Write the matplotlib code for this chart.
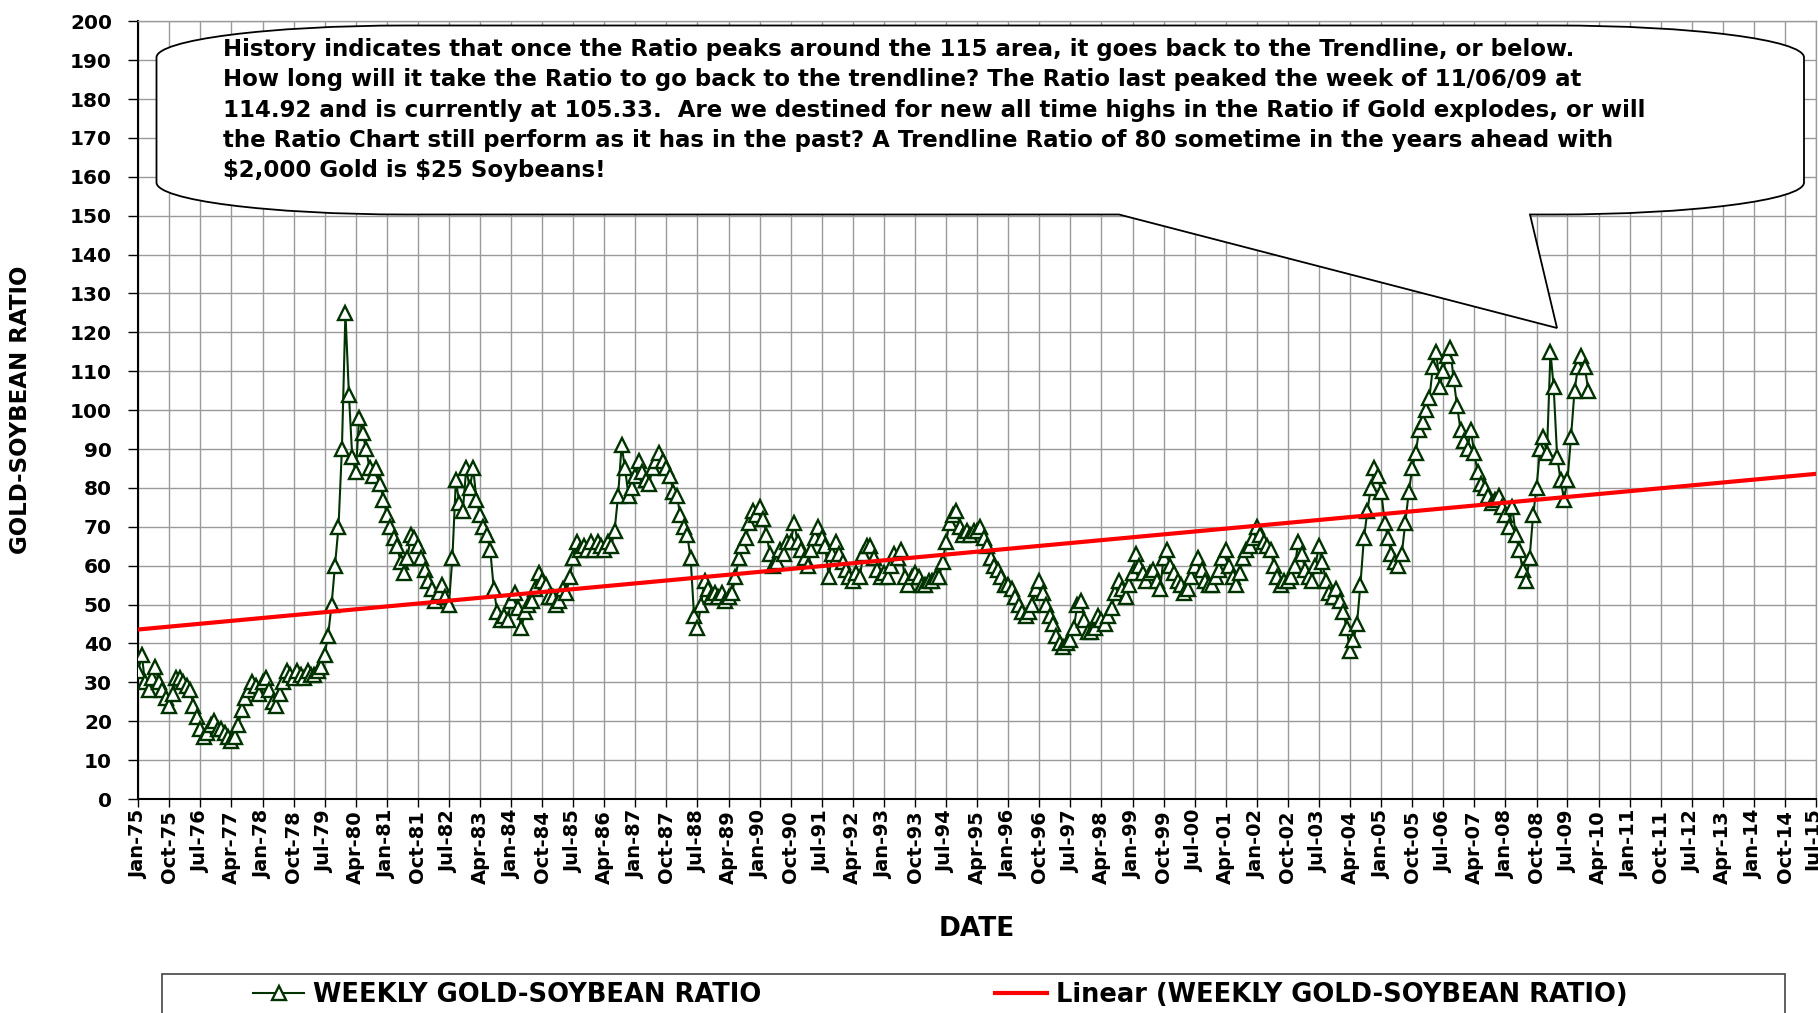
import numpy as np
import pandas as pd
import matplotlib
matplotlib.use("Agg")
import matplotlib.pyplot as plt
from matplotlib.path import Path
from matplotlib.patches import PathPatch, Rectangle
from matplotlib.lines import Line2D

# Monthly readings of the weekly gold/soybean ratio, Jan-75 .. Jan-10
ratio_values = [
    33, 37, 30, 28, 31, 34, 30, 28, 26, 24, 27, 31,          # 1975
    31, 30, 29, 28, 24, 21, 18, 16, 17, 19, 20, 18,          # 1976
    18, 17, 16, 15, 16, 19, 23, 26, 28, 30, 29, 27,          # 1977
    30, 31, 28, 25, 24, 27, 30, 33, 32, 31, 33, 32,          # 1978
    31, 33, 32, 32, 33, 34, 37, 42, 50, 60, 70, 90,          # 1979
    125, 104, 88, 84, 98, 94, 90, 85, 83, 85, 81, 77,        # 1980
    73, 70, 67, 65, 61, 58, 62, 68, 67, 65, 62, 59,          # 1981
    56, 54, 51, 53, 55, 52, 50, 62, 82, 76, 74, 85,          # 1982
    80, 85, 77, 73, 70, 68, 64, 54, 48, 46, 47, 46,          # 1983
    51, 53, 49, 44, 48, 50, 51, 54, 58, 56, 55, 52,          # 1984
    52, 50, 51, 54, 53, 57, 62, 66, 64, 65, 64, 66,          # 1985
    64, 66, 65, 64, 66, 65, 69, 78, 91, 85, 78, 80,          # 1986
    83, 87, 84, 82, 81, 85, 87, 89, 87, 85, 83, 79,          # 1987
    78, 73, 70, 68, 62, 47, 44, 50, 56, 54, 52, 53,          # 1988
    52, 53, 51, 52, 53, 57, 62, 65, 67, 71, 74, 73,          # 1989
    75, 72, 68, 63, 60, 61, 64, 63, 66, 66, 71, 66,          # 1990
    64, 62, 60, 64, 67, 70, 67, 65, 57, 63, 66, 63,          # 1991
    61, 59, 57, 56, 58, 57, 63, 65, 65, 62, 59, 57,          # 1992
    58, 57, 60, 63, 62, 64, 57, 55, 57, 58, 57, 55,          # 1993
    55, 56, 56, 57, 57, 61, 66, 71, 73, 74, 70, 68,          # 1994
    69, 68, 69, 69, 70, 67, 65, 62, 60, 59, 57, 55,          # 1995
    55, 54, 52, 50, 48, 47, 48, 50, 54, 56, 53, 50,          # 1996
    47, 45, 42, 40, 39, 40, 41, 44, 50, 51, 46, 43,          # 1997
    43, 44, 47, 46, 45, 47, 49, 53, 56, 54, 52, 55,          # 1998
    58, 63, 60, 58, 56, 58, 59, 56, 54, 62, 64, 60,          # 1999
    58, 56, 55, 53, 54, 57, 60, 62, 59, 56, 55, 55,          # 2000
    57, 59, 62, 64, 60, 57, 55, 58, 62, 64, 65, 67,          # 2001
    70, 68, 66, 65, 64, 60, 57, 55, 56, 56, 57, 60,          # 2002
    66, 63, 59, 57, 56, 60, 65, 61, 56, 53, 52, 54,          # 2003
    51, 48, 44, 38, 41, 45, 55, 67, 74, 80, 85, 83,          # 2004
    79, 71, 67, 63, 61, 60, 63, 71, 79, 85, 89, 95,          # 2005
    97, 100, 103, 111, 115, 106, 110, 114, 116, 108, 101, 95,  # 2006
    92, 90, 95, 89, 84, 81, 80, 78, 76, 77, 78, 75,          # 2007
    73, 70, 75, 68, 64, 59, 56, 62, 73, 80, 90, 93,          # 2008
    89, 115, 106, 88, 82, 77, 82, 93, 105, 111, 114, 111,    # 2009
    105,                                                     # 2010
]
ratio_dates = pd.date_range("1975-01-01", periods=len(ratio_values), freq="MS")

tick_dates = pd.date_range("1975-01-01", "2015-07-01", freq="9MS")
tick_labels = [d.strftime("%b-%y") for d in tick_dates]
y_ticks = list(range(0, 201, 10))

callout_text = (
    "History indicates that once the Ratio peaks around the 115 area, it goes back to the Trendline, or below.\n"
    "How long will it take the Ratio to go back to the trendline? The Ratio last peaked the week of 11/06/09 at\n"
    "114.92 and is currently at 105.33.  Are we destined for new all time highs in the Ratio if Gold explodes, or will\n"
    "the Ratio Chart still perform as it has in the past? A Trendline Ratio of 80 sometime in the years ahead with\n"
    "\\$2,000 Gold is \\$25 Soybeans!"
)

# Linear trendline (like Excel's) over the monthly series
month_idx = np.arange(len(ratio_values))
slope, intercept = np.polyfit(month_idx, ratio_values, 1)
trend_months = np.array([0, 486])
trend_dates = [tick_dates[0], tick_dates[-1]]
trend_values = intercept + slope * trend_months

W, H = 1818, 1013
fig = plt.figure(figsize=(W / 100, H / 100), dpi=100)
ax = fig.add_axes([138.3 / W, 1 - 799 / H, (1816 - 138.3) / W, (799 - 21.3) / H])

green = "#003300"
ax.plot(ratio_dates, ratio_values, color=green, lw=1.5, marker="^", ms=9.5,
        mfc="white", mec=green, mew=1.7, zorder=3)
ax.plot(trend_dates, trend_values, color="#ff0000", lw=3, zorder=4)

ax.set_xlim(tick_dates[0], tick_dates[-1])
ax.set_ylim(0, 200)
ax.set_xticks(tick_dates)
ax.set_xticklabels(tick_labels, rotation=90, fontsize=14, fontweight="bold")
ax.set_yticks(y_ticks)
ax.set_yticklabels([str(v) for v in y_ticks], fontsize=14.5, fontweight="bold")
ax.tick_params(axis="x", direction="out", length=6, width=1, pad=2)
ax.tick_params(axis="y", direction="out", length=7, width=1, pad=12)
ax.grid(True, color="#9a9a9a", lw=1)
ax.set_axisbelow(True)
for side in ["left", "bottom"]:
    ax.spines[side].set_color("black")
    ax.spines[side].set_linewidth(1.5)
for side in ["top", "right"]:
    ax.spines[side].set_color("#9a9a9a")
    ax.spines[side].set_linewidth(1)

fig.text(21 / W, 1 - 410 / H, "GOLD-SOYBEAN RATIO", rotation=90, ha="center",
         va="center", fontsize=16.5, fontweight="bold")
fig.text(977 / W, 1 - 929 / H, "DATE", ha="center", va="center",
         fontsize=19, fontweight="bold")


# Callout bubble, built in pixel coordinates (y down), then converted
def fpx(x, y):
    return (x / W, 1 - y / H)


L, R, T, B = 156.5, 1804, 25.5, 214.5
rx, ry, k = 250, 32, 0.5523
base1, base2, tip = 1119, 1530, (1557, 328)
pts = [
    (L, T + ry),
    (L, T + ry - k * ry), (L + rx - k * rx, T), (L + rx, T),
    (R - rx, T),
    (R - rx + k * rx, T), (R, T + ry - k * ry), (R, T + ry),
    (R, B - ry),
    (R, B - ry + k * ry), (R - rx + k * rx, B), (R - rx, B),
    (base2, B),
    tip,
    (base1, B),
    (L + rx, B),
    (L + rx - k * rx, B), (L, B - ry + k * ry), (L, B - ry),
    (L, T + ry),
]
codes = [Path.MOVETO,
         Path.CURVE4, Path.CURVE4, Path.CURVE4,
         Path.LINETO,
         Path.CURVE4, Path.CURVE4, Path.CURVE4,
         Path.LINETO,
         Path.CURVE4, Path.CURVE4, Path.CURVE4,
         Path.LINETO, Path.LINETO, Path.LINETO, Path.LINETO,
         Path.CURVE4, Path.CURVE4, Path.CURVE4,
         Path.CLOSEPOLY]
bubble = PathPatch(Path([fpx(*p) for p in pts], codes), facecolor="white",
                   edgecolor="black", lw=1.3, transform=fig.transFigure, zorder=5)
fig.add_artist(bubble)
fig.text(223 / W, 1 - 110 / H, callout_text, ha="left", va="center",
         fontsize=16.5, fontweight="bold", linespacing=1.39, zorder=6)

# Legend box at the bottom (runs off the lower edge like the original)
fig.add_artist(Rectangle((162 / W, -0.1), (1785 - 162) / W, 0.1 + 1 - 974 / H,
                         transform=fig.transFigure, fill=False,
                         edgecolor="#444444", lw=1.2))
handles = [
    Line2D([], [], color=green, lw=1.5, marker="^", ms=9.5, mfc="white",
           mec=green, mew=1.7),
    Line2D([], [], color="#ff0000", lw=3),
]
labels = ["WEEKLY GOLD-SOYBEAN RATIO", "Linear (WEEKLY GOLD-SOYBEAN RATIO)"]
leg = fig.legend(handles, labels, loc="center left", bbox_to_anchor=(253 / W, 1 - 995 / H),
                 ncol=2, frameon=False, numpoints=1, borderpad=0, borderaxespad=0,
                 handlelength=2.0, handletextpad=0.35, columnspacing=9.1,
                 prop={"size": 18.5, "weight": "bold"})

fig.savefig("out.png", dpi=100)
